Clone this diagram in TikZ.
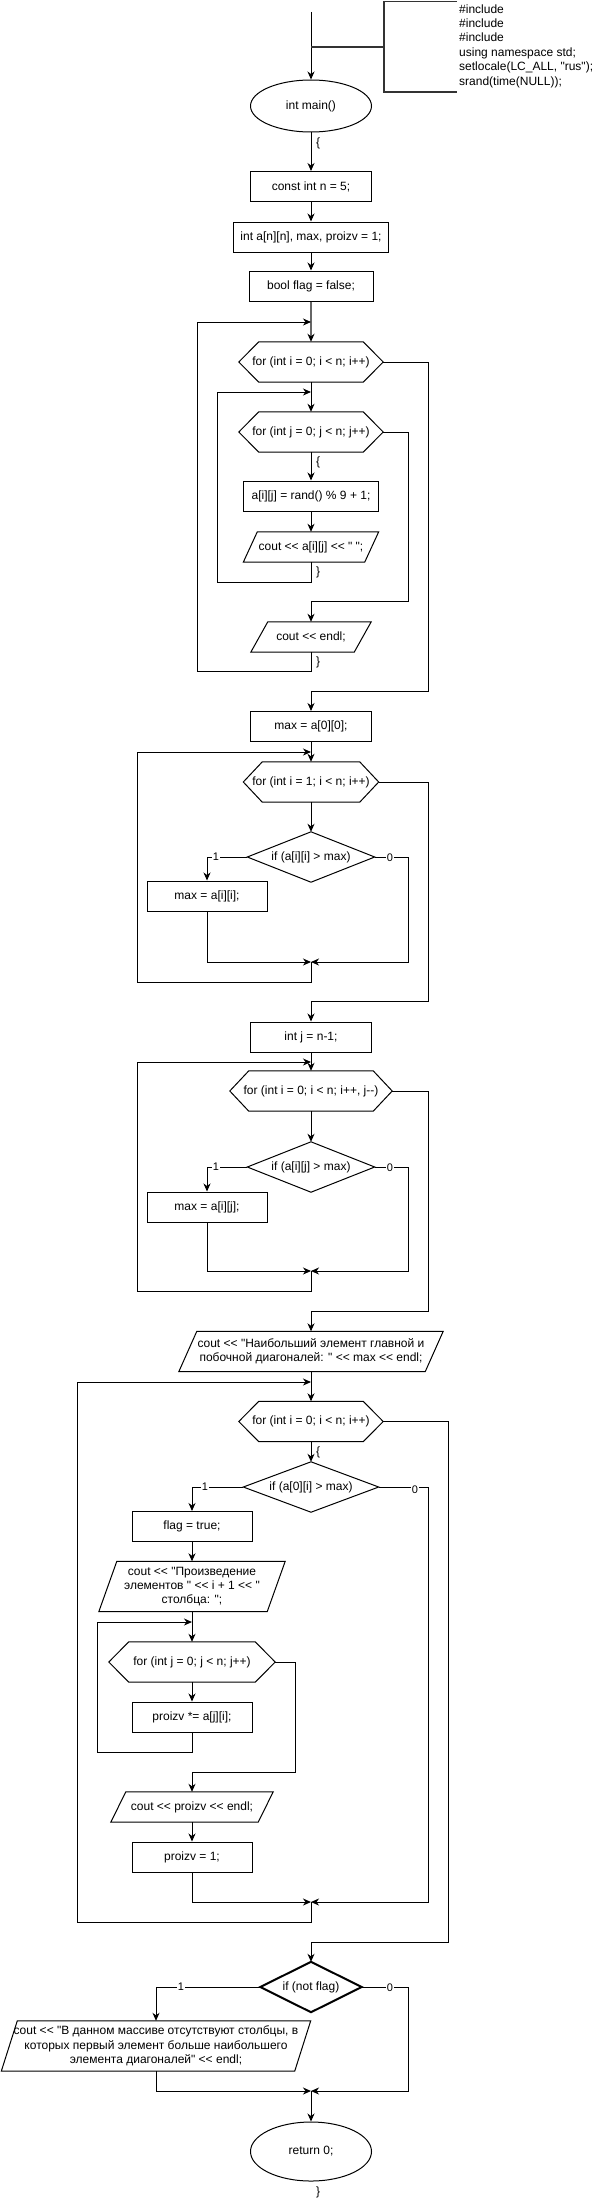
\documentclass[tikz,border=0pt]{standalone}
\usepackage{fontspec}
\setmainfont{Liberation Sans}[Ligatures=TeXOff]
\usetikzlibrary{shapes.geometric,arrows.meta,calc}
\newcommand\myfs{\fontsize{12pt}{14.4pt}\selectfont}
\newcommand\myhex[2]{\draw[shp] (#1.west) -- ([xshift=#2]#1.north west) -- ([xshift=-#2]#1.north east) -- (#1.east) -- ([xshift=-#2]#1.south east) -- ([xshift=#2]#1.south west) -- cycle;}
\newcommand\mypar[2]{\draw[shp] ([xshift=#2]#1.north west) -- (#1.north east) -- ([xshift=-#2]#1.south east) -- (#1.south west) -- cycle;}
\newcommand\mydia[2][shp]{\draw[#1] (#2.west) -- (#2.north) -- (#2.east) -- (#2.south) -- cycle;}
\begin{document}
\begin{tikzpicture}[x=1pt,y=-1pt,
  shp/.style={draw=black, line width=1pt},
  thk/.style={draw=black, line width=2pt},
  ln/.style={draw=black, line width=1pt},
  arr/.style={ln, -{Stealth[length=8pt,width=7pt,inset=2.5pt]}},
  box/.style={draw, line width=1pt, rectangle, minimum height=30pt, inner sep=2pt, font=\myfs, align=center},
  ell/.style={draw, line width=1pt, ellipse, minimum width=121pt, minimum height=52pt, inner sep=0pt, font=\myfs},
  blank/.style={rectangle, inner sep=0pt, font=\myfs, align=center},
  lbl/.style={font=\myfs, inner sep=0pt, anchor=west},
  yn/.style={font=\fontsize{11pt}{12pt}\selectfont, fill=white, inner sep=1pt},
  note/.style={draw=black!80, line width=1.6pt}
]
\useasboundingbox (0,0) rectangle (593,2202);

% header
\coordinate (top) at (311,12);
\node[ell] (main) at (311,106) {int main()};
\draw[arr] (top) -- (main.north);
\coordinate (nj) at (311,47);
\coordinate (nb) at (384,47);
\draw[note] (nj) -- (nb);
\draw[note] (457,1.5) -- (384,1.5) -- (384,92) -- (457,92);
\node[font=\myfs, align=left, anchor=west, inner sep=0pt] (inc) at (459,46) {\#include\\\#include\\\#include\\using namespace std;\\setlocale(LC\_ALL, "rus");\\srand(time(NULL));};

\node[box, minimum width=121pt] (n5) at (311,186.5) {const int n = 5;};
\draw[arr] (main.south) -- (n5.north);
\node[lbl] (br1) at (316,143) {\{};
\node[box, minimum width=155pt] (arr) at (311,237) {int a[n][n], max, proizv = 1;};
\draw[arr] (n5) -- (arr);
\node[box, minimum width=124pt] (fl0) at (311,286) {bool flag = false;};
\draw[arr] (arr) -- (fl0);

% loop 1 / loop 2
\node[blank, minimum width=144pt, minimum height=40pt] (f1) at (311,362) {for (int i = 0; i < n; i++)};
\myhex{f1}{20pt}
\draw[ln, draw=black!60, line width=1.4pt, -{Stealth[length=8pt,width=7pt,inset=2.5pt,color=black]}] (fl0.south) -- (f1.north);
\node[blank, minimum width=144pt, minimum height=40pt] (f2) at (311,432) {for (int j = 0; j < n; j++)};
\myhex{f2}{20pt}
\draw[arr] (f1.south) -- (f2.north);
\node[box, minimum width=135pt] (rnd) at (311,496) {a[i][j] = rand() \% 9 + 1;};
\draw[arr] (f2.south) -- (rnd.north);
\node[lbl] (br2) at (316,462) {\{};
\node[blank, minimum width=135pt, minimum height=30pt] (o1) at (311,547) {cout << a[i][j] << " ";};
\mypar{o1}{14pt}
\draw[arr] (rnd) -- (o1);
\node[lbl] (br3) at (316,572) {\}};
\coordinate (l2a) at (311,582); \coordinate (l2b) at (217,582);
\coordinate (l2c) at (217,392); \coordinate (l2d) at (311,392);
\draw[arr] (o1.south) -- (l2a) -- (l2b) -- (l2c) -- (l2d);
\coordinate (e2a) at (408,432); \coordinate (e2b) at (408,601); \coordinate (e2c) at (311,601);
\node[blank, minimum width=120pt, minimum height=30pt] (o2) at (311,637) {cout << endl;};
\mypar{o2}{17pt}
\draw[arr] (f2.east) -- (e2a) -- (e2b) -- (e2c) -- (o2.north);
\node[lbl] (br4) at (316,662) {\}};
\coordinate (l1a) at (311,671); \coordinate (l1b) at (197,671);
\coordinate (l1c) at (197,322); \coordinate (l1d) at (311,322);
\draw[arr] (o2.south) -- (l1a) -- (l1b) -- (l1c) -- (l1d);
\coordinate (e1a) at (428,362); \coordinate (e1b) at (428,691); \coordinate (e1c) at (311,691);
\node[box, minimum width=121pt] (mx0) at (311,726.5) {max = a[0][0];};
\draw[arr] (f1.east) -- (e1a) -- (e1b) -- (e1c) -- (mx0.north);

% loop 3
\node[blank, minimum width=135pt, minimum height=40pt] (f3) at (311,782) {for (int i = 1; i < n; i++)};
\myhex{f3}{19pt}
\draw[arr] (mx0) -- (f3);
\node[blank, minimum width=127pt, minimum height=50pt] (if1) at (311,857) {if (a[i][i] > max)};
\mydia{if1}
\draw[arr] (f3.south) -- (if1.north);
\node[box, minimum width=120pt] (m1) at (207,896) {max = a[i][i];};
\coordinate (d1l) at (207,857);
\draw[arr] (if1.west) -- (d1l) -- (m1.north);
\node[yn] (y1) at (216,857) {1};
\coordinate (mg1) at (311,962);
\coordinate (d1r) at (408,857); \coordinate (d1rb) at (408,962);
\draw[arr] (if1.east) -- (d1r) -- (d1rb) -- (mg1);
\node[yn] (n1) at (390,858) {0};
\coordinate (m1b) at (207,962);
\draw[arr] (m1.south) -- (m1b) -- (mg1);
\coordinate (l3a) at (311,982); \coordinate (l3b) at (137,982);
\coordinate (l3c) at (137,752); \coordinate (l3d) at (311,752);
\draw[arr] (mg1) -- (l3a) -- (l3b) -- (l3c) -- (l3d);
\coordinate (e3a) at (428,782); \coordinate (e3b) at (428,1001); \coordinate (e3c) at (311,1001);
\node[box, minimum width=121pt] (jn) at (311,1037) {int j = n-1;};
\draw[arr] (f3.east) -- (e3a) -- (e3b) -- (e3c) -- (jn.north);

% loop 4
\node[blank, minimum width=162pt, minimum height=40pt] (f4) at (311,1091) {for (int i = 0; i < n; i++, j--)};
\myhex{f4}{19pt}
\draw[arr] (jn) -- (f4);
\node[blank, minimum width=127pt, minimum height=50pt] (if2) at (311,1167) {if (a[i][j] > max)};
\mydia{if2}
\draw[arr] (f4.south) -- (if2.north);
\node[box, minimum width=120pt] (m2) at (207,1207) {max = a[i][j];};
\coordinate (d2l) at (207,1167);
\draw[arr] (if2.west) -- (d2l) -- (m2.north);
\node[yn] (y2) at (216,1167) {1};
\coordinate (mg2) at (311,1271);
\coordinate (d2r) at (408,1167); \coordinate (d2rb) at (408,1271);
\draw[arr] (if2.east) -- (d2r) -- (d2rb) -- (mg2);
\node[yn] (n2) at (390,1168) {0};
\coordinate (m2b) at (207,1271);
\draw[arr] (m2.south) -- (m2b) -- (mg2);
\coordinate (l4a) at (311,1291); \coordinate (l4b) at (137,1291);
\coordinate (l4c) at (137,1062); \coordinate (l4d) at (311,1062);
\draw[arr] (mg2) -- (l4a) -- (l4b) -- (l4c) -- (l4d);
\coordinate (e4a) at (428,1091); \coordinate (e4b) at (428,1311); \coordinate (e4c) at (311,1311);
\node[blank, minimum width=264pt, minimum height=40pt] (o3) at (311,1351.5) {cout << "Наибольший элемент главной и\\побочной диагоналей: " << max << endl;};
\mypar{o3}{18pt}
\draw[arr] (f4.east) -- (e4a) -- (e4b) -- (e4c) -- (o3.north);

% loop 5
\node[blank, minimum width=144pt, minimum height=40pt] (f5) at (311,1421.5) {for (int i = 0; i < n; i++)};
\myhex{f5}{20pt}
\draw[arr] (o3.south) -- (f5.north);
\node[lbl] (br5) at (316,1452) {\{};
\node[blank, minimum width=135pt, minimum height=50pt] (if3) at (311,1487) {if (a[0][i] > max)};
\mydia{if3}
\draw[arr] (f5.south) -- (if3.north);
\node[box, minimum width=120pt] (fl) at (192,1526.5) {flag = true;};
\coordinate (d3l) at (192,1487);
\draw[arr] (if3.west) -- (d3l) -- (fl.north);
\node[yn] (y3) at (205,1487) {1};
\node[blank, minimum width=186pt, minimum height=50pt] (o4) at (192,1586.5) {cout << "Произведение\\элементов " << i + 1 << "\\столбца: ";};
\mypar{o4}{18pt}
\draw[arr] (fl) -- (o4);
\node[blank, minimum width=166pt, minimum height=40pt] (f6) at (192,1662) {for (int j = 0; j < n; j++)};
\myhex{f6}{20pt}
\draw[arr] (o4.south) -- (f6.north);
\node[box, minimum width=120pt] (pz) at (192,1717) {proizv *= a[j][i];};
\draw[arr] (f6.south) -- (pz.north);
\coordinate (l6a) at (192,1752); \coordinate (l6b) at (97,1752);
\coordinate (l6c) at (97,1622); \coordinate (l6d) at (192,1622);
\draw[arr] (pz.south) -- (l6a) -- (l6b) -- (l6c) -- (l6d);
\node[blank, minimum width=162pt, minimum height=30pt] (o5) at (192,1807) {cout << proizv << endl;};
\mypar{o5}{15pt}
\coordinate (e6a) at (295,1662); \coordinate (e6b) at (295,1772); \coordinate (e6c) at (192,1772);
\draw[arr] (f6.east) -- (e6a) -- (e6b) -- (e6c) -- (o5.north);
\node[box, minimum width=120pt] (p1) at (192,1857) {proizv = 1;};
\draw[arr] (o5) -- (p1);
\coordinate (mg3) at (311,1902); \coordinate (p1b) at (192,1902);
\draw[arr] (p1.south) -- (p1b) -- (mg3);
\coordinate (d3r) at (428,1487); \coordinate (d3rb) at (428,1902);
\draw[arr] (if3.east) -- (d3r) -- (d3rb) -- (mg3);
\node[yn] (n3) at (415,1490) {0};
\coordinate (l5a) at (311,1922); \coordinate (l5b) at (77,1922);
\coordinate (l5c) at (77,1382); \coordinate (l5d) at (311,1382);
\draw[arr] (mg3) -- (l5a) -- (l5b) -- (l5c) -- (l5d);
\coordinate (e5a) at (448,1421.5); \coordinate (e5b) at (448,1942); \coordinate (e5c) at (311,1942);
\node[blank, minimum width=101pt, minimum height=50pt] (if4) at (311,1987) {if (not flag)};
\mydia[thk]{if4}
\draw[arr] (f5.east) -- (e5a) -- (e5b) -- (e5c) -- (if4.north);
\node[blank, minimum width=309pt, minimum height=50pt] (o6) at (156,2046) {cout << "В данном массиве отсутствуют столбцы, в\\которых первый элемент больше наибольшего\\элемента диагоналей" << endl;};
\mypar{o6}{16pt}
\coordinate (d4l) at (156,1987);
\draw[arr] (if4.west) -- (d4l) -- (o6.north);
\node[yn] (y4) at (181,1987) {1};
\coordinate (mg4) at (311,2091);
\coordinate (d4r) at (408,1987); \coordinate (d4rb) at (408,2091);
\draw[arr] (if4.east) -- (d4r) -- (d4rb) -- (mg4);
\node[yn] (n4) at (390,1988) {0};
\coordinate (o6b) at (156,2091);
\draw[arr] (o6.south) -- (o6b) -- (mg4);
\node[ell, minimum height=59pt] (ret) at (311,2151.5) {return 0;};
\draw[arr] (mg4) -- (ret.north);
\node[lbl] (br6) at (316,2192) {\}};
\end{tikzpicture}
\end{document}
